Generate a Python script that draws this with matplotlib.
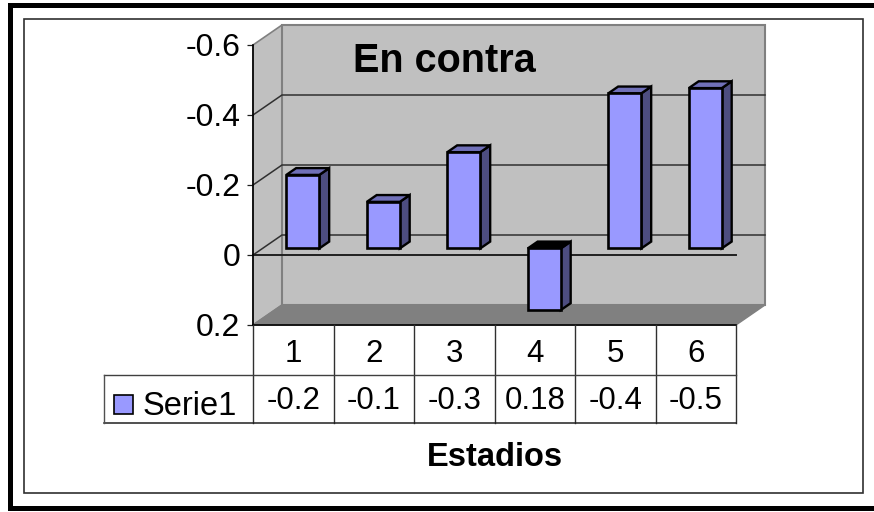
import matplotlib
matplotlib.use("Agg")
import matplotlib.pyplot as plt
from matplotlib.patches import Polygon, Rectangle
from matplotlib.transforms import blended_transform_factory

plt.rcParams['font.family'] = ['Liberation Sans', 'DejaVu Sans']

# ====== data ======
categories = [1, 2, 3, 4, 5, 6]
bar_values = [-0.21, -0.133, -0.275, 0.176, -0.443, -0.458]
table_labels = ['-0.2', '-0.1', '-0.3', '0.18', '-0.4', '-0.5']
y_ticks = [-0.6, -0.4, -0.2, 0, 0.2]
y_tick_labels = ['-0.6', '-0.4', '-0.2', '0', '0.2']
series_name = 'Serie1'
title = 'En contra'
x_title = 'Estadios'

# ====== style ======
W, H = 874, 512
WALL = '#C0C0C0'
FLOOR = '#808080'
FRONT = '#9999FF'
SIDE = '#4D4D80'
TOP = '#7070B8'
BAR_W = 0.41
TICK_FS = 23
TABLE_FS = 22.5

fig = plt.figure(figsize=(W / 100, H / 100), dpi=100, facecolor='white')

# overlay in pixel coords for frame, table grid and captions
px = fig.add_axes([0, 0, 1, 1], zorder=3)
px.set_xlim(0, W)
px.set_ylim(H, 0)
px.axis('off')
px.patch.set_alpha(0)

# front plane of the 3D box
ax = fig.add_axes([253 / W, (H - 325) / H, 483 / W, 280 / H], zorder=2)
ax.set_xlim(0.5, 6.5)
ax.set_ylim(0.2, -0.6)
ax.patch.set_alpha(0)
for s in ax.spines.values():
    s.set_visible(False)

# depth of the box, expressed in data units
DX = 29 * 6 / 483
DY = -20 * 0.8 / 280


def proj(x, y, d=1.0):
    return (x + d * DX, y + d * DY)


x0, x1 = ax.get_xlim()
y_top, y_bot = -0.6, 0.2

# walls and floor
ax.add_patch(Polygon([proj(x0, y_top, 0), proj(x0, y_top), proj(x0, y_bot), proj(x0, y_bot, 0)],
                     fc=WALL, ec=FLOOR, lw=1.2, clip_on=False, zorder=1))
ax.add_patch(Polygon([proj(x0, y_top), proj(x1, y_top), proj(x1, y_bot), proj(x0, y_bot)],
                     fc=WALL, ec=FLOOR, lw=1.5, clip_on=False, zorder=1))
ax.add_patch(Polygon([proj(x0, y_bot, 0), proj(x0, y_bot), proj(x1, y_bot), proj(x1, y_bot, 0)],
                     fc=FLOOR, ec=FLOOR, lw=1, clip_on=False, zorder=1))

# gridlines on wall
for t in y_ticks[1:-1]:
    pts = [proj(x0, t, 0), proj(x0, t), proj(x1, t)]
    ax.plot([p[0] for p in pts], [p[1] for p in pts], color='#303030', lw=1.1,
            clip_on=False, zorder=2)
ax.plot([x0, x1], [0, 0], color='#202020', lw=1.4, clip_on=False, zorder=2)
ax.plot([x0, x1], [y_bot, y_bot], color='black', lw=1.2, clip_on=False, zorder=6)
ax.plot([x0, x0], [y_top, y_bot], color='black', lw=1.2, clip_on=False, zorder=6)

# bars: sit in the middle third of the box depth
D0, D1 = 0.33, 0.67
for c, v in zip(categories, bar_values):
    xl, xr = c - BAR_W / 2, c + BAR_W / 2
    top_col = 'black' if v > 0 else TOP
    ax.add_patch(Polygon([proj(xr, 0, D0), proj(xr, 0, D1), proj(xr, v, D1), proj(xr, v, D0)],
                         fc=SIDE, ec='black', lw=1.7, clip_on=False, zorder=3))
    cap = min(v, 0)
    ax.add_patch(Polygon([proj(xl, cap, D0), proj(xl, cap, D1), proj(xr, cap, D1), proj(xr, cap, D0)],
                         fc=top_col, ec='black', lw=1.7, clip_on=False, zorder=3))
    ax.add_patch(Polygon([proj(xl, 0, D0), proj(xr, 0, D0), proj(xr, v, D0), proj(xl, v, D0)],
                         fc=FRONT, ec='black', lw=1.9, clip_on=False, zorder=4))

ax.set_yticks(y_ticks, y_tick_labels, fontsize=TICK_FS)
ax.tick_params(axis='y', length=4, width=0.9, pad=5, color='#202020')
ax.set_xticks(categories, [str(c) for c in categories], fontsize=TABLE_FS)
ax.tick_params(axis='x', length=0, pad=10)

# outer frame (black, open at the right edge of the picture)
px.add_patch(Rectangle((8, 3), 900, 5, fc='black', ec='none'))
px.add_patch(Rectangle((8, 3), 5, 508, fc='black', ec='none'))
px.add_patch(Rectangle((8, 506), 900, 5, fc='black', ec='none'))
px.add_patch(Rectangle((24, 19), 839, 474, fc='none', ec='#303030', lw=1.2))

# data table grid
cat_tr = blended_transform_factory(ax.transData, px.transData)
for i in range(len(categories) + 1):
    px.plot([0.5 + i] * 2, [325, 423], color='#303030', lw=1.0, transform=cat_tr)
px.plot([104, 736], [375, 375], color='#404040', lw=1.0)
px.plot([104, 736], [423, 423], color='#202020', lw=1.1)
px.plot([104, 104], [375, 423], color='#505050', lw=1.0)

for c, lab in zip(categories, table_labels):
    px.text(c, 401, lab, transform=cat_tr, ha='center', va='center', fontsize=TABLE_FS)

px.add_patch(Rectangle((114, 395), 19, 19, fc=FRONT, ec='black', lw=1.2))
px.text(143, 415, series_name, ha='left', va='baseline', fontsize=TABLE_FS + 1)

px.text(444, 61, title, ha='center', va='center', fontsize=28.5, fontweight='bold')
px.text(495, 458, x_title, ha='center', va='center', fontsize=23.5, fontweight='bold')

fig.savefig('out.png', dpi=100)
